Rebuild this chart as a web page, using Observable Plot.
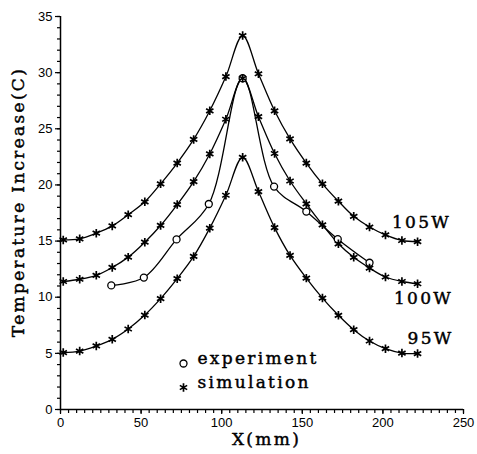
<!DOCTYPE html>
<html><head><meta charset="utf-8">
<script src="https://cdn.jsdelivr.net/npm/d3@7"></script>
<script src="https://cdn.jsdelivr.net/npm/@observablehq/plot@0.6"></script>
<style>body{margin:0;background:#fff}</style>
</head><body><div id="chart"></div>
<script>
const xSim = [1.7, 11.9, 22.2, 32.1, 42.0, 52.3, 62.1, 72.4, 82.6, 92.6, 102.6, 113.0, 122.8, 132.8, 142.4, 152.5, 162.5, 172.4, 181.9, 191.7, 201.6, 211.8, 221.5];
const sim105 = [15.1, 15.2, 15.7, 16.35, 17.35, 18.5, 20.1, 21.95, 24.05, 26.6, 29.65, 33.3, 29.9, 26.6, 24.1, 21.95, 20.1, 18.55, 17.2, 16.25, 15.55, 15.05, 14.95];
const sim100 = [11.4, 11.6, 11.95, 12.65, 13.57, 14.9, 16.39, 18.25, 20.3, 22.76, 25.85, 29.5, 26.08, 22.8, 20.35, 18.32, 16.45, 14.76, 13.55, 12.6, 11.8, 11.4, 11.2];
const sim95 = [5.07, 5.2, 5.66, 6.25, 7.17, 8.41, 9.87, 11.65, 13.63, 16.15, 19.08, 22.46, 19.41, 16.2, 13.72, 11.7, 9.92, 8.39, 7.11, 6.1, 5.42, 5.03, 4.98];
const xExp = [31.5, 51.7, 72.0, 92.0, 113.0, 132.5, 152.5, 172.0, 191.7];
const exp100 = [11.05, 11.75, 15.15, 18.3, 29.5, 19.85, 17.63, 15.17, 13.07];
const seriesNames = ["105W", "100W", "95W"];
const legendNames = ["experiment", "simulation"];
const xTicks = [0, 50, 100, 150, 200, 250];
const yTicks = [0, 5, 10, 15, 20, 25, 30, 35];
const xLabel = "X(mm)";
const yLabel = "Temperature Increase(C)";

const simRows = [];
[sim105, sim100, sim95].forEach((vals, k) =>
  vals.forEach((v, i) => simRows.push({series: seriesNames[k], x: xSim[i], y: v})));
const expRows = xExp.map((x, i) => ({x, y: exp100[i]}));
const lastRows = seriesNames.map(s => {
  const r = simRows.filter(d => d.series === s);
  return r[r.length - 1];
});

const serif = "DejaVu Serif";
const labelOpts = {fontFamily: serif, fontSize: 17, fill: "black", stroke: "black", strokeWidth: 0.45};

const chart = Plot.plot({
  width: 477, height: 454,
  marginLeft: 60, marginRight: 14, marginTop: 16, marginBottom: 45,
  x: {domain: [0, 250]},
  y: {domain: [0, 35]},
  style: {fontFamily: "Liberation Sans", fontSize: "13px", color: "black", background: "white"},
  marks: [
    Plot.axisX({ticks: d3.range(0, 251, 5), tickSize: 4, tickFormat: () => "", label: null, strokeWidth: 1.2}),
    Plot.axisX({ticks: xTicks, tickSize: 5, tickPadding: 3, label: null, fontSize: 13, strokeWidth: 1.2}),
    Plot.axisY({ticks: d3.range(0, 36, 1), tickSize: 3, tickFormat: () => "", label: null, strokeWidth: 1.2}),
    Plot.axisY({ticks: yTicks, tickSize: 5, tickPadding: 3, label: null, fontSize: 13, strokeWidth: 1.2}),
    Plot.ruleX([0], {stroke: "black", strokeWidth: 1.5}),
    Plot.ruleY([0], {stroke: "black", strokeWidth: 1.5}),
    Plot.line(simRows, {x: "x", y: "y", z: "series", curve: "catmull-rom", stroke: "black", strokeWidth: 1.3}),
    Plot.line(expRows, {x: "x", y: "y", curve: "catmull-rom", stroke: "black", strokeWidth: 1.3}),
    Plot.dot(expRows, {x: "x", y: "y", symbol: "circle", r: 3.5, stroke: "black", fill: "white", strokeWidth: 1.3}),
    Plot.dot(simRows, {x: "x", y: "y", symbol: "asterisk", r: 4, stroke: "black", strokeWidth: 1.7}),
    Plot.text(lastRows.filter(d => d.series === "105W"), {x: "x", y: "y", text: "series", dx: 4, dy: -19, ...labelOpts}),
    Plot.text(lastRows.filter(d => d.series === "100W"), {x: "x", y: "y", text: "series", dx: 6, dy: 15, ...labelOpts}),
    Plot.text(lastRows.filter(d => d.series === "95W"), {x: "x", y: "y", text: "series", dx: 13, dy: -15, ...labelOpts}),
    Plot.dot([legendNames[0]], {frameAnchor: "bottom-left", dx: 123, dy: -46, symbol: "circle", r: 3.5, stroke: "black", strokeWidth: 1.3}),
    Plot.dot([legendNames[1]], {frameAnchor: "bottom-left", dx: 123, dy: -22, symbol: "asterisk", r: 4, stroke: "black", strokeWidth: 1.7}),
    Plot.text([legendNames[0]], {frameAnchor: "bottom-left", dx: 137, dy: -46, text: d => d, textAnchor: "start", ...labelOpts}),
    Plot.text([legendNames[1]], {frameAnchor: "bottom-left", dx: 137, dy: -22, text: d => d, textAnchor: "start", ...labelOpts}),
    Plot.text([xLabel], {frameAnchor: "bottom", dx: 4.5, dy: 35, text: d => d, textAnchor: "middle", ...labelOpts}),
    Plot.text([yLabel], {frameAnchor: "left", dx: -42, dy: -11, rotate: -90, text: d => d, textAnchor: "middle", ...labelOpts})
  ]
});
d3.select(chart).selectAll("g[font-family='DejaVu Serif']").attr("letter-spacing", "2.3px");
document.getElementById("chart").appendChild(chart);
</script>
</body></html>
